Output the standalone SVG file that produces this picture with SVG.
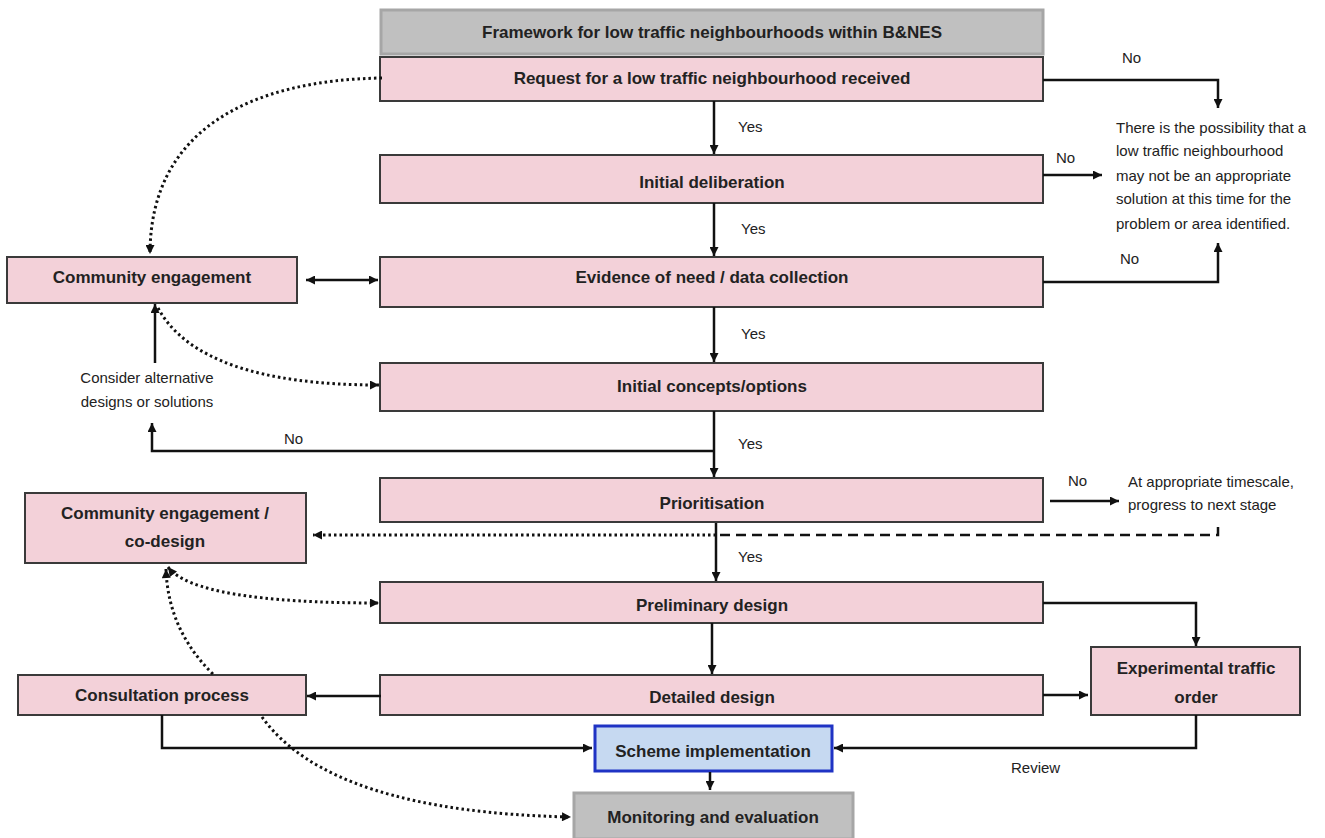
<svg xmlns="http://www.w3.org/2000/svg" width="1325" height="838" viewBox="0 0 1325 838">
<style>
.box{fill:#f3d1d9;stroke:#3a3a3a;stroke-width:2}
.grey{fill:#c0c0c0;stroke:#a6a6a6;stroke-width:3}
.blue{fill:#c6d9f1;stroke:#1f33c4;stroke-width:3}
.t{font-family:"Liberation Sans",Arial,sans-serif;font-weight:bold;font-size:17px;fill:#222;text-anchor:middle;dominant-baseline:central}
.l{font-family:"Liberation Sans",Arial,sans-serif;font-size:15px;fill:#222;dominant-baseline:central}
.c{text-anchor:middle}
.s{fill:none;stroke:#111;stroke-width:2.5}
.d{fill:none;stroke:#111;stroke-width:3;stroke-dasharray:2.5 3}
.dash{fill:none;stroke:#111;stroke-width:2.5;stroke-dasharray:10 6}
</style>
<defs>
<marker id="ah" viewBox="0 0 10 10" refX="10" refY="5" markerWidth="10" markerHeight="9" markerUnits="userSpaceOnUse" orient="auto-start-reverse">
<path d="M0,0 L10,5 L0,10 z" fill="#111"/>
</marker>
</defs>

<g id="title"><rect class="grey" x="381" y="10" width="662" height="44"/><text class="t" x="712" y="32">Framework for low traffic neighbourhoods within B&amp;NES</text></g>
<g id="request"><rect class="box" x="380" y="57" width="663" height="44"/><text class="t" x="712" y="78">Request for a low traffic neighbourhood received</text></g>
<g id="deliberation"><rect class="box" x="380" y="155" width="663" height="48"/><text class="t" x="712" y="182">Initial deliberation</text></g>
<g id="evidence"><rect class="box" x="380" y="257" width="663" height="50"/><text class="t" x="712" y="277">Evidence of need / data collection</text></g>
<g id="concepts"><rect class="box" x="380" y="363" width="663" height="48"/><text class="t" x="712" y="386">Initial concepts/options</text></g>
<g id="prioritisation"><rect class="box" x="380" y="478" width="663" height="44"/><text class="t" x="712" y="503">Prioritisation</text></g>
<g id="preliminary"><rect class="box" x="380" y="582" width="663" height="41"/><text class="t" x="712" y="605">Preliminary design</text></g>
<g id="detailed"><rect class="box" x="380" y="675" width="663" height="40"/><text class="t" x="712" y="697">Detailed design</text></g>
<g id="community"><rect class="box" x="7" y="257" width="290" height="46"/><text class="t" x="152" y="277">Community engagement</text></g>
<g id="codesign"><rect class="box" x="25" y="493" width="281" height="70"/><text class="t" x="165" y="513">Community engagement /</text><text class="t" x="165" y="541">co-design</text></g>
<g id="consultation"><rect class="box" x="18" y="675" width="288" height="40"/><text class="t" x="162" y="695">Consultation process</text></g>
<g id="eto"><rect class="box" x="1091" y="647" width="209" height="68"/><text class="t" x="1196" y="668">Experimental traffic</text><text class="t" x="1196" y="697">order</text></g>
<g id="scheme"><rect class="blue" x="595" y="726" width="237" height="45"/><text class="t" x="713" y="751">Scheme implementation</text></g>
<g id="monitoring"><rect class="grey" x="574" y="793" width="279" height="46"/><text class="t" x="713" y="817">Monitoring and evaluation</text></g>

<g id="notes">
<text class="l" x="1116" y="127">There is the possibility that a</text>
<text class="l" x="1116" y="150">low traffic neighbourhood</text>
<text class="l" x="1116" y="175">may not be an appropriate</text>
<text class="l" x="1116" y="198">solution at this time for the</text>
<text class="l" x="1116" y="223">problem or area identified.</text>
<text class="l" x="1128" y="481">At appropriate timescale,</text>
<text class="l" x="1128" y="504">progress to next stage</text>
<text class="l c" x="147" y="377">Consider alternative</text>
<text class="l c" x="147" y="401">designs or solutions</text>
</g>

<g id="connectors">
<path class="s" d="M714,101 V154" marker-end="url(#ah)"/>
<path class="s" d="M714,203 V256" marker-end="url(#ah)"/>
<path class="s" d="M714,307 V362" marker-end="url(#ah)"/>
<path class="s" d="M714,411 V477" marker-end="url(#ah)"/>
<path class="s" d="M714,451 H152 V423" marker-end="url(#ah)"/>
<path class="s" d="M155,363 V304" marker-end="url(#ah)"/>
<path class="s" d="M716,523 V581" marker-end="url(#ah)"/>
<path class="s" d="M712,623 V674" marker-end="url(#ah)"/>
<path class="s" d="M1043,80 H1218 V108" marker-end="url(#ah)"/>
<path class="s" d="M1043,175 H1102" marker-end="url(#ah)"/>
<path class="s" d="M1043,282 H1218 V243" marker-end="url(#ah)"/>
<path class="s" d="M306,280 H378" marker-start="url(#ah)" marker-end="url(#ah)"/>
<path class="s" d="M1050,501 H1119" marker-end="url(#ah)"/>
<path class="dash" d="M1218,527 V535 H716"/>
<path class="d" d="M716,535 H313" marker-end="url(#ah)"/>
<path class="s" d="M1043,603 H1196 V646" marker-end="url(#ah)"/>
<path class="s" d="M1043,695 H1088" marker-end="url(#ah)"/>
<path class="s" d="M381,696 H307" marker-end="url(#ah)"/>
<path class="s" d="M162,715 V748 H592" marker-end="url(#ah)"/>
<path class="s" d="M1196,715 V748 H834" marker-end="url(#ah)"/>
<path class="s" d="M710,772 V790" marker-end="url(#ah)"/>
<path class="d" d="M382,78 C250,80 150,130 150,254" marker-end="url(#ah)"/>
<path class="d" d="M158,308 Q200,385 379,385" marker-end="url(#ah)"/>
<path class="d" d="M168,567 Q195,603 379,603" marker-start="url(#ah)" marker-end="url(#ah)"/>
<path class="d" d="M213,674 Q168,630 166,569" marker-end="url(#ah)"/>
<path class="d" d="M262,717 Q330,812 571,817" marker-end="url(#ah)"/>
</g>

<g id="labels">
<text class="l" x="738" y="126">Yes</text>
<text class="l" x="741" y="228">Yes</text>
<text class="l" x="741" y="333">Yes</text>
<text class="l" x="738" y="443">Yes</text>
<text class="l" x="738" y="556">Yes</text>
<text class="l" x="1122" y="57">No</text>
<text class="l" x="1056" y="157">No</text>
<text class="l" x="1120" y="258">No</text>
<text class="l" x="284" y="438">No</text>
<text class="l" x="1068" y="480">No</text>
<text class="l" x="1011" y="767">Review</text>
</g>
</svg>
